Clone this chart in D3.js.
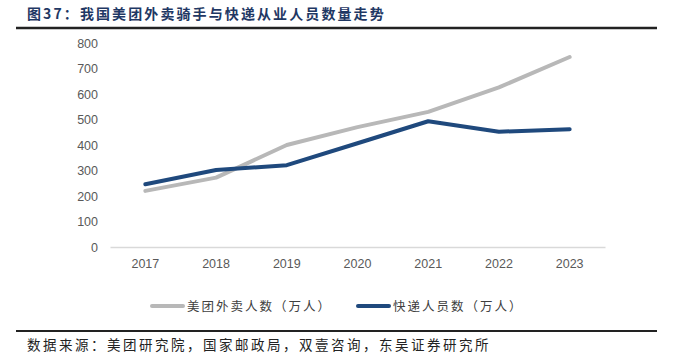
<!DOCTYPE html>
<html lang="zh">
<head>
    <meta charset="UTF-8">
    <title>我国美团外卖骑手与快递从业人员数量走势</title>
    <script src="https://d3js.org/d3.v7.min.js"></script>
    <style>
        body {
            margin: 0;
            background: #fff;
        }
        .title {
            font-family: "Noto Sans CJK SC", sans-serif;
            font-size: 14px;
            font-weight: bold;
            letter-spacing: 2.1px;
            fill: #1f3864;
        }
        .axis text {
            font-family: "Liberation Sans", Arial, sans-serif;
            font-size: 12.5px;
            fill: #595959;
        }
        .legend-text {
            font-family: "Noto Sans CJK SC", sans-serif;
            font-size: 12.5px;
            letter-spacing: 2px;
            fill: #404040;
        }
        .source {
            font-family: "Noto Sans CJK SC", sans-serif;
            font-size: 13.5px;
            letter-spacing: 2.5px;
            fill: #222;
        }
    </style>
</head>
<body>
    <svg width="675" height="354"></svg>
    <script>
        var years = ["2017", "2018", "2019", "2020", "2021", "2022", "2023"];
        var meituan = [220, 272, 400, 470, 530, 626, 745];
        var express = [246, 302, 321, 407, 493, 452, 462];
        var yTicks = [0, 100, 200, 300, 400, 500, 600, 700, 800];

        var series = [
            {name: "美团外卖人数（万人）", values: meituan, color: "#b8b8b8"},
            {name: "快递人员数（万人）", values: express, color: "#1f497d"}
        ];

        var svg = d3.select("svg");

        svg.append("text")
            .attr("class", "title")
            .attr("x", 27)
            .attr("y", 19)
            .text("图37：我国美团外卖骑手与快递从业人员数量走势");

        svg.append("line")
            .attr("x1", 16).attr("x2", 657)
            .attr("y1", 28).attr("y2", 28)
            .attr("stroke", "#222").attr("stroke-width", 2.5);

        var x = d3.scaleBand()
            .domain(years)
            .range([110, 605]);

        var y = d3.scaleLinear()
            .domain([0, 800])
            .range([247, 43]);

        // y axis labels only
        var yAxis = svg.append("g")
            .attr("class", "axis")
            .attr("transform", "translate(110,0)")
            .call(d3.axisLeft(y).tickValues(yTicks).tickSize(0).tickPadding(12));
        yAxis.select(".domain").remove();

        // x axis
        var xAxis = svg.append("g")
            .attr("class", "axis")
            .attr("transform", "translate(0,247)")
            .call(d3.axisBottom(x).tickSize(0).tickPadding(12));
        xAxis.select(".domain")
            .attr("stroke", "#d9d9d9")
            .attr("stroke-width", 1.5);

        var line = d3.line()
            .x(function(d, i) { return x(years[i]) + x.bandwidth() / 2; })
            .y(function(d) { return y(d); });

        series.forEach(function(s) {
            svg.append("path")
                .datum(s.values)
                .attr("fill", "none")
                .attr("stroke", s.color)
                .attr("stroke-width", 4)
                .attr("stroke-linecap", "round")
                .attr("stroke-linejoin", "round")
                .attr("d", line);
        });

        // legend
        var legendX = [152, 358];
        series.forEach(function(s, i) {
            var g = svg.append("g")
                .attr("transform", "translate(" + legendX[i] + ",306)");
            g.append("line")
                .attr("x1", 0).attr("x2", 31)
                .attr("y1", 0).attr("y2", 0)
                .attr("stroke", s.color)
                .attr("stroke-width", 4)
                .attr("stroke-linecap", "round");
            g.append("text")
                .attr("class", "legend-text")
                .attr("x", 35)
                .attr("y", 4.5)
                .text(s.name);
        });

        svg.append("line")
            .attr("x1", 16).attr("x2", 657)
            .attr("y1", 331).attr("y2", 331)
            .attr("stroke", "#222").attr("stroke-width", 2);

        svg.append("text")
            .attr("class", "source")
            .attr("x", 27)
            .attr("y", 350)
            .text("数据来源：美团研究院，国家邮政局，双壹咨询，东吴证券研究所");
    </script>
</body>
</html>
